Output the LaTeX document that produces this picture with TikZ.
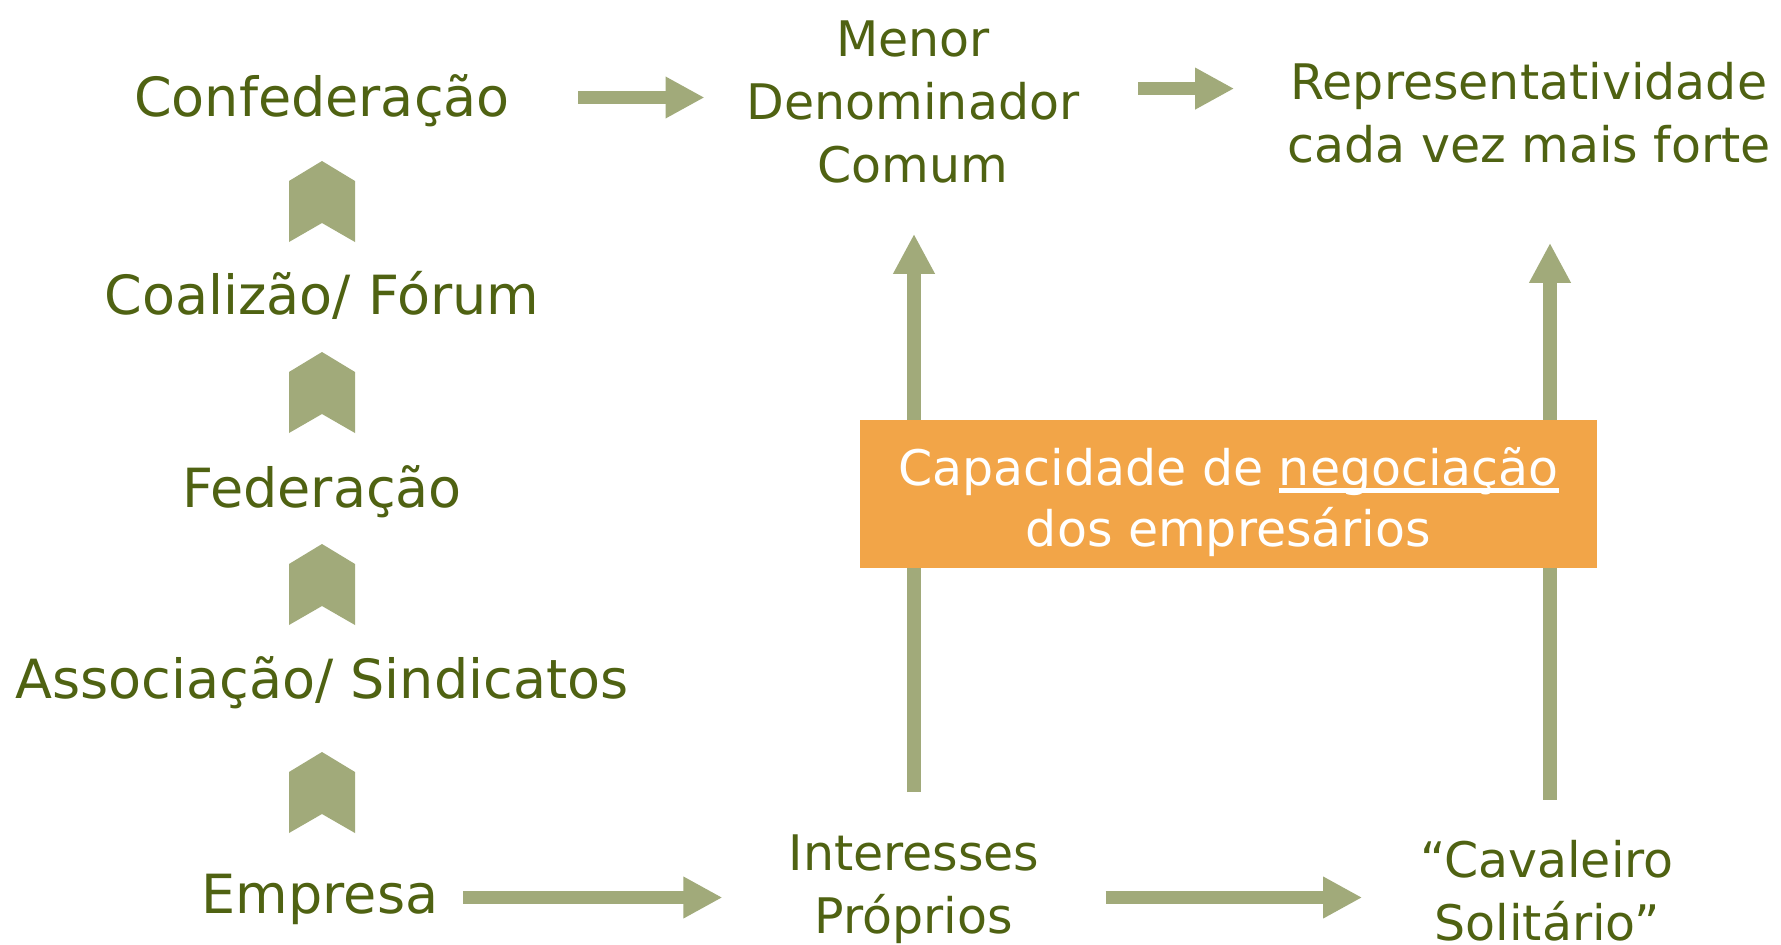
\documentclass[tikz,border=0pt]{standalone}
\usepackage{fontspec}
\setmainfont{DejaVu Sans}
\usepackage{xcolor}
\usepackage{tikz}
\usetikzlibrary{positioning}
\usetikzlibrary{arrows.meta, calc}
\definecolor{olivetext}{HTML}{4F6212}
\definecolor{arrowgreen}{HTML}{A1AA7A}
\definecolor{boxorange}{HTML}{F2A548}
\newcommand{\ulword}[1]{\setbox0\hbox{#1}\rlap{\rule[-8pt]{\wd0}{5pt}}\box0}
\tikzstyle{lvl} = [font=\fontsize{54}{60}\selectfont, text=olivetext, inner sep=0pt, anchor=base]
\tikzstyle{lbl} = [font=\fontsize{49}{63}\selectfont, text=olivetext, inner sep=0pt, anchor=base, align=center]
\tikzstyle{blockarrow} = [arrowgreen, line width=13pt, -{Triangle[length=39pt,width=39pt]}]
\tikzstyle{uparrow} = [arrowgreen, line width=14pt, -{Triangle[length=40pt,width=39pt]}]
\tikzstyle{negbox} = [fill=boxorange, text=white, minimum width=737pt, minimum height=148pt, inner sep=0pt, align=center, font=\fontsize{49}{61}\selectfont]
\tikzset{chevron/.pic={\fill[arrowgreen] (0,0) -- (33,20) -- (33,81) -- (0,62) -- (-33,81) -- (-33,20) -- cycle;}}

\begin{document}
\begin{tikzpicture}[x=1pt,y=-1pt]
      \path[use as bounding box, fill=white] (0,0) rectangle (1781,945);
      % left column
      \node[lvl] (conf) at (322,116) {Confederação};
      \node[lvl] (coal) at (322,314) {Coalizão/ Fórum};
      \node[lvl] (fed) at (322,507) {Federação};
      \node[lvl] (assoc) at (322,698) {Associação/ Sindicatos};
      \node[lvl] (emp) at (320,913) {Empresa};
      \pic at (322,161) {chevron};
      \pic at (322,352) {chevron};
      \pic at (322,544) {chevron};
      \pic at (322,752) {chevron};
      % middle and right (base = last line)
      \node[lbl] (menor) at (913,182) {Menor\\Denominador\\Comum};
      \node[lbl] (repr) at (1529,162) {Representatividade\\cada vez mais forte};
      \node[lbl] (inter) at (914,933) {Interesses\\Próprios};
      \node[lbl] (cav) at (1547,940) {“Cavaleiro\\Solitário”};
      \draw[blockarrow, shorten <=68pt, shorten >=42pt] ($(conf.base east)+(0,-18.5)$) -- ($(conf.base east -| menor.west)+(0,-18.5)$);
      \draw[blockarrow, shorten <=59pt, shorten >=53pt] ($(repr.north west -| menor.east)+(0,27)$) -- ($(repr.north west)+(0,27)$);
      \draw[blockarrow, shorten <=25pt, shorten >=66pt] ($(emp.base east)+(0,-15.5)$) -- ($(emp.base east -| inter.west)+(0,-15.5)$);
      \draw[blockarrow, shorten <=66pt, shorten >=58pt] ($(emp.base east -| inter.east)+(0,-15.5)$) -- ($(emp.base east -| cav.west)+(0,-15.5)$);
      \draw[uparrow, shorten <=42pt, shorten >=51pt] (inter.north) -- (inter.north |- menor.south);
      \draw[uparrow, shorten <=40pt, shorten >=80pt] ($(cav.north)+(3,0)$) -- ($(cav.north |- repr.south)+(3,0)$);
      \node[negbox, text height=114pt, text depth=10pt] (neg) at (1228.5,494) {Capacidade de \ulword{negociação}\\dos empresários};
\end{tikzpicture}
\end{document}
